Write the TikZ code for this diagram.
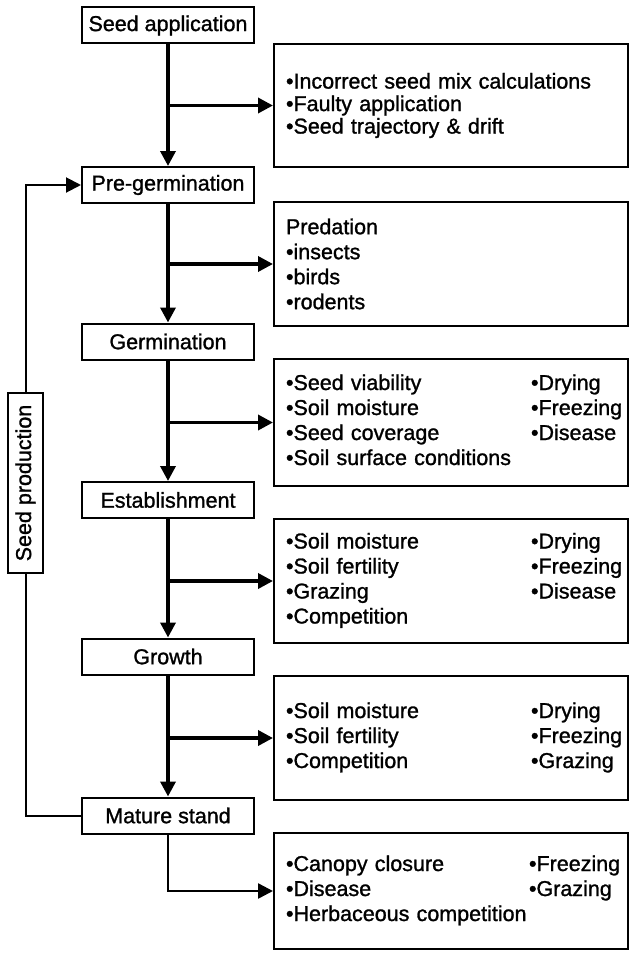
\documentclass[tikz,border=0pt]{standalone}
\usepackage{fontspec}
\setmainfont{Liberation Sans}[AutoFakeBold=1.2]
\usetikzlibrary{arrows.meta}
\begin{document}
\begin{tikzpicture}[x=1pt,y=-1pt,
  txtfont/.style={font=\fontsize{21.5}{25}\selectfont\bfseries},
  stage/.style={draw, line width=2pt, minimum width=172pt, minimum height=36pt, inner sep=0pt, txtfont},
  rbox/.style={draw, line width=2pt, minimum width=354pt, text width=330pt, align=left, inner xsep=12pt, inner ysep=0pt, anchor=north west, txtfont},
  arr/.style={line width=3.5pt, -{Triangle[length=15pt,width=15pt]}},
  ln/.style={line width=2pt}]
\useasboundingbox (0,0) rectangle (629,958);

% stage boxes
\node[stage] (s1) at (168,25.5) {Seed application};
\node[stage] (s2) at (168,185) {Pre-germination};
\node[stage] (s3) at (168,341.5) {Germination};
\node[stage] (s4) at (168,500) {Establishment};
\node[stage] (s5) at (168,656.5) {Growth};
\node[stage] (s6) at (168,815.5) {Mature stand};

% seed production
\node[draw, line width=2pt, rotate=90, minimum width=180pt, minimum height=35pt, inner sep=0pt, txtfont] (sp) at (25.5,483) {Seed production};

% right boxes
\node[rbox, minimum height=123pt, font=\fontsize{21.5}{22.5}\selectfont\bfseries] (r1) at (273,43)
  {•Incorrect seed mix calculations\\•Faulty application\\•Seed trajectory \& drift};
\node[rbox, minimum height=124pt] (r2) at (273,201)
  {Predation\\•insects\\•birds\\•rodents};
\node[rbox, minimum height=127pt] (r3) at (273,358)
  {\begin{tabular}{@{}p{245pt}@{}l@{}}
  •Seed viability & •Drying\\
  •Soil moisture & •Freezing\\
  •Seed coverage & •Disease\\
  •Soil surface conditions &
  \end{tabular}};
\node[rbox, minimum height=124pt] (r4) at (273,518)
  {\begin{tabular}{@{}p{245pt}@{}l@{}}
  •Soil moisture & •Drying\\
  •Soil fertility & •Freezing\\
  •Grazing & •Disease\\
  •Competition &
  \end{tabular}};
\node[rbox, minimum height=124pt] (r5) at (273,675)
  {\begin{tabular}{@{}p{245pt}@{}l@{}}
  •Soil moisture & •Drying\\
  •Soil fertility & •Freezing\\
  •Competition & •Grazing
  \end{tabular}};
\node[rbox, minimum height=116pt] (r6) at (273,832)
  {\begin{tabular}{@{}p{243pt}@{}l@{}}
  •Canopy closure & •Freezing\\
  •Disease & •Grazing\\
  •Herbaceous competition &
  \end{tabular}};

% main flow
\draw[arr] (s1) -- (s2);
\draw[arr] (s2) -- (s3);
\draw[arr] (s3) -- (s4);
\draw[arr] (s4) -- (s5);
\draw[arr] (s5) -- (s6);

% branches
\draw[arr] (s1.south |- r1.west) -- (r1.west);
\draw[arr] (s2.south |- r2.west) -- (r2.west);
\draw[arr] (s3.south |- r3.west) -- (r3.west);
\draw[arr] (s4.south |- r4.west) -- (r4.west);
\draw[arr] (s5.south |- r5.west) -- (r5.west);
\draw[arr, line width=2.5pt] (s6.south) |- (r6.west);

% seed production loop
\draw[ln, -{Triangle[length=15pt,width=15pt]}] (sp.east) |- (s2.west);
\draw[ln] (sp.west) |- (s6.west);
\end{tikzpicture}
\end{document}
